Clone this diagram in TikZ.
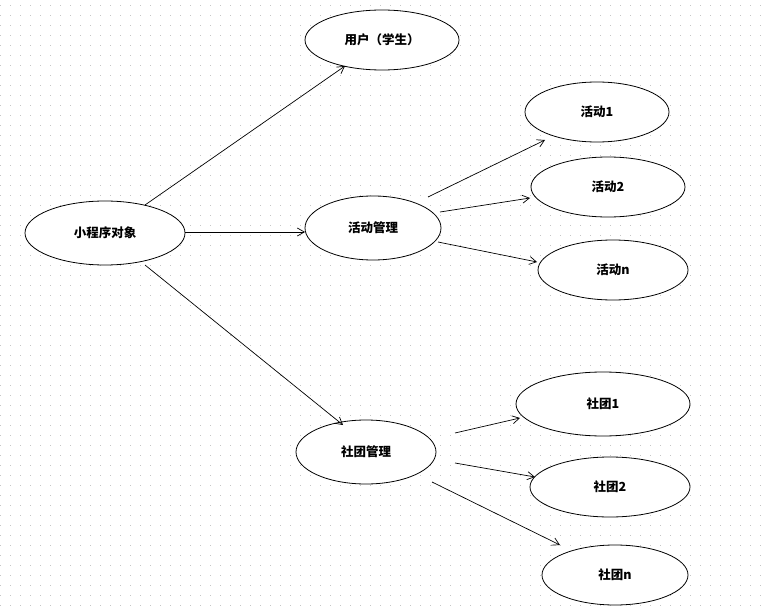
\documentclass[tikz,border=0pt]{standalone}
\usepackage{fontspec}
\setmainfont{Noto Sans CJK SC}
\usetikzlibrary{arrows.meta}
\begin{document}
\begin{tikzpicture}[x=1pt,y=-1pt,
  lbl/.style={font=\bfseries\fontsize{12.5}{14}\selectfont},
  ar/.style={-{Straight Barb[length=7pt,width=8pt]},line width=0.7pt}]
\useasboundingbox (0,0) rectangle (769,610);
\fill[white] (0,0) rectangle (769,610);
\foreach \y in {5,15,...,605} {\draw[gray!45,line width=0.8pt,dash pattern=on 0.8pt off 9.2pt] (0,\y) -- (769,\y);}
\def\E#1#2#3#4#5#6{\draw[line width=0.8pt,fill=white] (#2,#3) ellipse [x radius=#4,y radius=#5]; \node[lbl] (#1) at (#2,#3) {#6};}
\E{root}{105}{233}{80}{32}{小程序对象}
\E{user}{382}{40}{77}{30}{用户（学生）}
\E{hd}{373}{228}{68}{32}{活动管理}
\E{a1}{597}{112}{72}{30}{活动1}
\E{a2}{608}{187}{77}{30}{活动2}
\E{an}{613}{270}{75}{30}{活动n}
\E{st}{366}{452}{70}{32}{社团管理}
\E{s1}{603}{404}{87}{32}{社团1}
\E{s2}{610}{487}{80}{30}{社团2}
\E{sn}{615}{575}{73}{30}{社团n}
\coordinate (p1) at (145,205); \coordinate (q1) at (345,66);
\coordinate (p2) at (185,232); \coordinate (q2) at (305,232);
\coordinate (p3) at (145,265); \coordinate (q3) at (343,425);
\coordinate (p4) at (428,197); \coordinate (q4) at (545,140);
\coordinate (p5) at (440,212); \coordinate (q5) at (530,198);
\coordinate (p6) at (438,242); \coordinate (q6) at (537,262);
\coordinate (p7) at (455,433); \coordinate (q7) at (520,418);
\coordinate (p8) at (455,463); \coordinate (q8) at (535,477);
\coordinate (p9) at (432,482); \coordinate (q9) at (560,545);
\foreach \i in {1,...,9} {\draw[ar] (p\i) -- (q\i);}
\end{tikzpicture}
\end{document}
